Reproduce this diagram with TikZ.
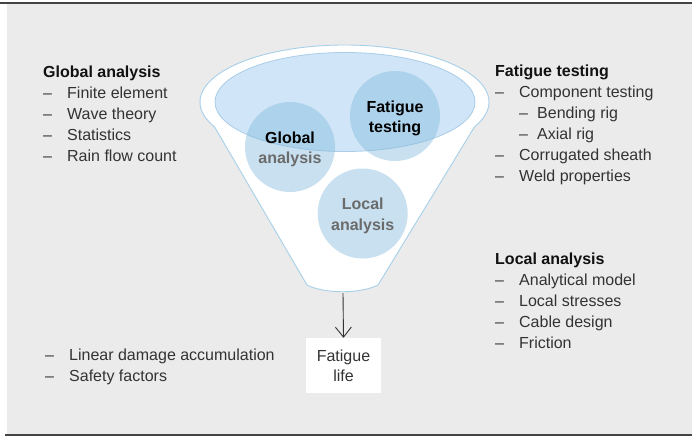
\documentclass[tikz,border=0pt]{standalone}
\usepackage{fontspec}
\setmainfont{Liberation Sans}
\usetikzlibrary{arrows.meta}
\definecolor{bggray}{HTML}{EBEBEB}
\definecolor{rulegray}{HTML}{444444}
\definecolor{funnelline}{HTML}{A6CFE9}
\definecolor{ellfill}{HTML}{D0E5F7}
\definecolor{ellline}{HTML}{A9CDE8}
\definecolor{circblue}{HTML}{81B9DC}
\definecolor{txtgray}{HTML}{333333}
\definecolor{softgray}{HTML}{6B6B6B}
\definecolor{headblack}{HTML}{111111}
\tikzset{
  txt/.style={font=\fontsize{16}{21}\selectfont, text=txtgray, inner sep=0pt, align=left, anchor=base west},
  head/.style={font=\fontsize{16}{21}\selectfont\bfseries, text=headblack, inner sep=0pt, anchor=base west},
  circ/.style={circle, minimum size=90pt, inner sep=0pt, fill=circblue, fill opacity=0.43, text opacity=1, align=center, font=\fontsize{16}{20.5}\selectfont\bfseries},
  lifebox/.style={fill=white, minimum width=75pt, minimum height=55pt, inner sep=0pt, align=center, font=\fontsize{16}{20}\selectfont, text=txtgray},
  arr/.style={-{Straight Barb[length=10pt,width=16pt]}, line width=0.9pt, draw=txtgray},
}
\newcommand{\dsh}{\makebox[24pt][l]{–}}
\newcommand{\sdsh}{\hspace*{24pt}\makebox[18pt][l]{–}}
\newcommand{\lift}{\rule{0pt}{16pt}}
\begin{document}
\begin{tikzpicture}[x=1pt,y=-1pt]
\useasboundingbox (0,0) rectangle (696,437);
% background panel and rules
\fill[bggray] (7,4) rectangle (692,434);
\draw[rulegray, line width=1.5pt] (0,3) -- (692,3);
\draw[rulegray, line width=1.5pt] (5,435) -- (692,435);
% funnel
\draw[funnelline, line width=0.9pt, fill=white]
  (344.5,102) ++(154:144.5 and 57)
  arc[start angle=154, end angle=386, x radius=144.5, y radius=57]
  -- (378,285) .. controls (360,294) and (325,294) .. (307,285) -- cycle;
\draw[ellline, line width=0.8pt, fill=ellfill] (345,102) ellipse [x radius=130, y radius=49.5];
% circles
\node[circ] (glob) at (290,147) {\lift Global\\\textcolor{softgray}{analysis}};
\node[circ] (fat) at (395,116) {\lift Fatigue\\testing};
\node[circ] (loc) at (362.7,213.5) {\lift\textcolor{softgray}{Local}\\\textcolor{softgray}{analysis}};
% output
\coordinate (fbot) at (343,293);
\node[lifebox] (life) at (343.5,365.5) {Fatigue\\life};
\draw[arr] (fbot) -- (life.north);
% lists (anchor = baseline of the last line)
\node[head] (gah) at (43,77) {Global analysis};
\node[txt] (gal) at (43,161) {\dsh Finite element\\\dsh Wave theory\\\dsh Statistics\\\dsh Rain flow count};
\node[head] (fth) at (495,76) {Fatigue testing};
\node[txt] (ftl) at (495,181) {\dsh Component testing\\\sdsh Bending rig\\\sdsh Axial rig\\\dsh Corrugated sheath\\\dsh Weld properties};
\node[head] (lah) at (495,264) {Local analysis};
\node[txt] (lal) at (495,348) {\dsh Analytical model\\\dsh Local stresses\\\dsh Cable design\\\dsh Friction};
\node[txt] (fll) at (45,381) {\dsh Linear damage accumulation\\\dsh Safety factors};
\end{tikzpicture}
\end{document}
